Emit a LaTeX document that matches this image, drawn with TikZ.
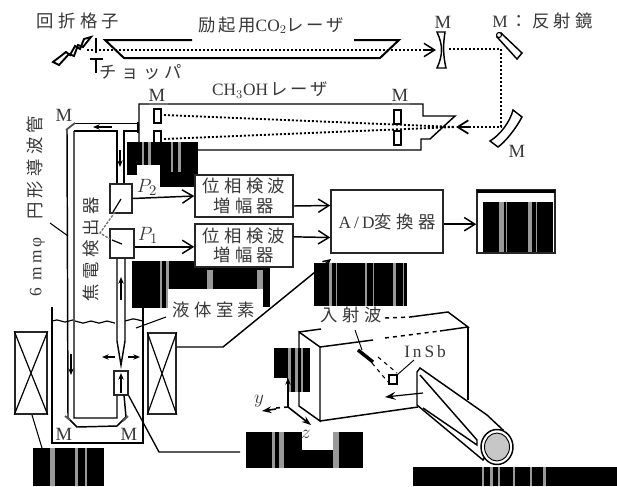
\documentclass[tikz,border=0pt]{standalone}
\usepackage{fontspec}
\setmainfont{Liberation Serif}
\newfontfamily\rmsp[LetterSpace=18]{Liberation Serif}
\newfontfamily\jpC[LetterSpace=25]{Noto Sans CJK JP}
\newfontfamily\jpB[LetterSpace=15]{Noto Sans CJK JP}
\usetikzlibrary{arrows.meta,decorations.pathmorphing}
\definecolor{ink}{gray}{0.22}
\tikzset{
  txt/.style={inner sep=0pt,text=ink,font=\fontsize{13pt}{15pt}\selectfont},
  mlab/.style={inner sep=0pt,text=ink,font=\fontsize{14pt}{15pt}\selectfont},
  itlab/.style={inner sep=0pt,text=ink,font=\fontsize{15pt}{16pt}\selectfont},
  dot/.style={line width=1.4pt,dash pattern=on 1.5pt off 1.5pt},
  wall/.style={line width=1.1pt},
  thick line/.style={line width=1.5pt},
  barb/.style={-{Straight Barb[length=8pt,width=10pt]},line width=1.1pt},
  small/.style={-{Stealth[length=5pt,width=4pt]},line width=.8pt},
  box/.style={draw=black!85,line width=1.1pt,fill=white,inner sep=0pt,align=center},
  block/.style={fill=black,draw=none},
  stripe/.style={fill=black!40,draw=none},
  mirror/.style={draw,line width=1.1pt,fill=white}
}
\newcommand{\stripes}[3]{\foreach \a/\b in {#3}{\fill[stripe] (\a,#1) rectangle (\b,#2);}}
\begin{document}
\begin{tikzpicture}[x=0.75pt,y=-0.75pt]
\useasboundingbox (0,0) rectangle (617,486);
\fill[white] (0,0) rectangle (617,486);

% top labels
\node[txt] (grlab) at (78,21) {\jpC 回折格子};
\node[txt] (co2lab) at (271,25) {\jpB 励起用\rmfamily CO$_2$\jpB レーザ};
\node[txt] (choplab) at (141,72) {\jpC チョッパ};
\node[mlab] (m1) at (443,22) {M};
\node[txt,anchor=west] (mlegend) at (492,21) {\rmfamily M\,\jpC ：反射鏡};

% grating and chopper
\draw[line width=1.4pt,fill=white] (53,62) -- (66,52) -- (70,55) -- (75,46) -- (80,49) -- (84,39) -- (91,37) -- (83,47) -- (78,45) -- (74,56) -- (69,54) -- (59,65) -- cycle;
\draw[line width=1.3pt,dash pattern=on 11pt off 4pt] (96,38) -- (96,78);
\draw[line width=1.3pt] (90,59) -- (103,59);

% CO2 laser
\draw[thick line] (192,40) -- (105,40) -- (124,58) -- (380,58) -- (399,40) -- (354,40);
\coordinate (beamL) at (87,50);
\coordinate (beamR) at (434,50);
\draw[dot] (beamL) -- (beamR);
\draw[barb] (424,50) -- (436,50);

% curved mirror, flat mirror, lower mirror
\draw[mirror] (437,32) -- (445,32) .. controls (443,45) and (443,55) .. (446,68) -- (437,68) .. controls (443,55) and (443,45) .. (437,32) -- cycle;
\draw[mirror] (497,37) -- (501,33) -- (522,53) -- (517,59) -- cycle;
\draw[line width=.8pt,fill=white] (499,35) circle (2.5);
\draw[mirror] (513,110) -- (522,117) .. controls (515,130) and (505,142) .. (498,147) -- (490,141) .. controls (500,135) and (510,122) .. (513,110) -- cycle;
\node[mlab] (m2) at (517,151) {M};

% relay beam
\coordinate (relayA) at (449,49);
\coordinate (relayB) at (501,49);
\coordinate (relayC) at (501,127);
\coordinate (relayD) at (459,127);
\draw[dot] (relayA) -- (relayB) -- (relayC) -- (relayD);
\draw[barb,line width=1.3pt] (470,127) -- (456,127);

% CH3OH laser
\node[txt] (chlab) at (270,90) {\rmfamily CH$_{3}$OH\,\jpB レーザ};
\draw[wall] (139,150) -- (139,104) -- (423,104) -- (423,116) -- (455,116) -- (430,139) -- (421,139) -- (421,150) -- (139,150);
\coordinate (focus) at (455,127);
\draw[dot] (164,115) -- (focus);
\draw[dot] (164,139) -- (focus);
\foreach \x/\y in {154/109,154/131,394/110,394/131}
  \draw[mirror] (\x,\y) rectangle ++(7,14);
\node[mlab] (m3) at (157,95) {M};
\node[mlab] (m4) at (400,95) {M};
\draw[line width=1.6pt,black!55] (149,104) -- (168,104) (392,104) -- (410,104);
\node[mlab] (m5) at (64,115) {M};

% waveguide
\draw[line width=2pt] (138,122) -- (138,133);
\draw[wall] (68,418) -- (67,130) (74,131) -- (74,418) -- (117,418) -- (117,395);
\draw[wall] (74,131) -- (117,131) -- (117,184);
\draw[wall] (124,184) -- (124,131) -- (137,131);
\draw[line width=1.3pt] (75,123.5) -- (137,123.5);
\draw[line width=1.3pt,black!70] (66,130) -- (75,123);
\draw[small] (112,127) -- (93,127);
\draw[small] (120,150) -- (120,167);
\draw[wall] (68,418) -- (77,427) -- (117,426) -- (126,417) -- (124,395);
\draw[line width=1.4pt,black!65] (65,416) -- (70,420) (128,416) -- (123,421);
\node[mlab] (m6) at (64,434) {M};
\node[mlab] (m7) at (129,434) {M};

% lower sample tube
\draw[wall,fill=white] (117,258) -- (117,341) -- (121,365) -- (125,341) -- (125,258);
\draw[small] (121,300) -- (121,277);
\draw[small] (71,354) -- (71,375);
\draw[small] (115,357) -- (102,357);
\draw[small] (128,357) -- (140,357);
\node[box,minimum width=10.5pt,minimum height=18pt] (sample) at (121,383) {};
\draw[small] (121,393) -- (121,373);

% cryostat
\draw[wall] (52,307) -- (52,443) -- (143,443) -- (143,308);
\draw[line width=.9pt,decorate,decoration={snake,amplitude=.8pt,segment length=12pt}] (52,321) -- (66,321) (75,321) -- (117,321) (125,321) -- (143,321);

% magnets
\node[box,minimum width=24pt,minimum height=61.5pt] (magL) at (31,373) {};
\node[box,minimum width=21pt,minimum height=60.75pt] (magR) at (162,373.5) {};
\draw[line width=.9pt] (magL.north west) -- (magL.south east) (magL.north east) -- (magL.south west);
\draw[line width=.9pt] (magR.north west) -- (magR.south east) (magR.north east) -- (magR.south west);

% redaction blocks
\fill[block] (127,142) rectangle (198,175);
\fill[block] (137,165) rectangle (195,187);
\stripes{142}{172}{142/144,148/151,171/173,178/181}
\fill[white] (137,165) rectangle (160,190);
\fill[block] (132,261) rectangle (270,289);
\fill[block] (132,289) rectangle (168,308);
\fill[block] (263,289) rectangle (270,307);
\stripes{261}{308}{160/162,166/169}
\stripes{270}{289}{207/213,257/263}
\fill[block] (274,348) rectangle (310,378);
\fill[block] (287,378) rectangle (310,392);
\stripes{348}{392}{288/291,295/298,301/303}
\fill[block] (246,432) rectangle (363,468);
\stripes{432}{468}{272/275,279/284,333/339}
\fill[white] (302,428) rectangle (333,450);
\fill[block] (33,448) rectangle (104,486);
\stripes{448}{486}{50/55,75/78,85/87}
\fill[block] (314,263) rectangle (407,306);
\stripes{263}{306}{329/332,336/337,365/367,373/374,393/396,403/404}
\fill[block] (413,467) rectangle (617,486);
\stripes{467}{486}{482/484,490/493,498/500,513/515,530/532,543/546}

% liquid label
\fill[white] (168,289) rectangle (263,322);
\node[txt] (liq) at (214,310) {\jpC 液体室素};
\coordinate (liqA) at (166,317);
\coordinate (liqB) at (136,328);
\draw[line width=.8pt] (liqA) -- (liqB);

% detectors
\node[box,minimum width=16.5pt,minimum height=21.75pt] (p2) at (121,198.5) {};
\node[box,minimum width=18pt,minimum height=21.75pt] (p1) at (122,243.5) {};
\draw[line width=.9pt] (113,212) -- (121,199);
\draw[line width=.9pt] (112,240) -- (122,244);
\draw[black!55,line width=1pt,dash pattern=on 2pt off 1pt] (115,212) -- (100,233) -- (110,239);
\node[itlab] (lp2) at (147,187) {$P_2$};
\node[itlab] (lp1) at (148,235) {$P_1$};

% amplifiers etc.
\node[box,minimum width=73.5pt,minimum height=31.5pt,font=\fontsize{13pt}{14.5pt}\selectfont,text=ink] (amp2) at (244,196) {\jpC 位相検波\\\jpC 増幅器};
\node[box,minimum width=73.5pt,minimum height=32.25pt,font=\fontsize{13pt}{14.5pt}\selectfont,text=ink] (amp1) at (244,245.5) {\jpC 位相検波\\\jpC 増幅器};
\node[box,minimum width=84pt,minimum height=47.25pt,font=\fontsize{13pt}{15pt}\selectfont,text=ink] (ad) at (387,221.5) {\rmsp A/D\jpC 変換器};
\node[box,minimum width=58.5pt,minimum height=47.25pt] (out) at (516,221.5) {};
\draw[line width=2pt] (477,191.5) -- (555,191.5);
\fill[block] (483,202) rectangle (553,252);
\stripes{202}{252}{499/504,506/507,528/532,536/537}
\draw[barb] (p2.east) -- (amp2.west);
\draw[barb] ([yshift=-2.5pt]p1.east) -- ([yshift=-1pt]amp1.west);
\draw[barb] ([yshift=-7.5pt]amp2.east) -- ([yshift=12pt]ad.west);
\draw[barb] ([yshift=6.5pt]amp1.east) -- ([yshift=-12pt]ad.west);
\draw[barb] ([yshift=-2pt]ad.east) -- ([yshift=-2pt]out.west);

% rotated labels
\node[txt,rotate=90] (wg) at (36,206) {\rmsp 6 mmφ\quad\jpC 円形導波管};
\node[txt,rotate=90] (det) at (91,249) {\jpC 焦電検出器};
\coordinate (wgA) at (50,223);
\coordinate (wgB) at (68,236);
\draw[line width=.8pt] (wgA) -- (wgB);

% leader lines
\coordinate (leadA) at (223,347);
\coordinate (leadB) at (331,259);
\draw[line width=1.1pt,-{Straight Barb[length=5pt,width=5pt]}] (magR.east|-leadA) -- (leadA) -- (leadB);
\fill[block] (314,263) rectangle (325,275);
\coordinate (lsA) at (159,452);
\coordinate (lsB) at (240,452);
\draw[line width=1pt] (sample.south east) -- (lsA) -- (lsB);
\coordinate (lmA) at (42,448);
\draw[line width=.8pt] (32,415) -- (lmA);

% InSb block
\node[txt] (inc) at (351,315) {\jpC 入射波};
\draw[wall] (299,332) -- (320,347) -- (320,421) -- (299,406) -- cycle;
\draw[wall] (320,421) -- (418,407);
\draw[wall] (320,347) -- (373,340);
\draw[wall] (440,331) -- (468,327) -- (448,312) -- (410,317);
\draw[wall] (468,327) -- (468,400);
\draw[wall] (299,332) -- (321,329);
\draw[line width=1.1pt,dashed] (385,318) -- (410,317) (385,338) -- (440,331);
\node[txt] (insb) at (425,352) {\rmsp I\,n\,S\,b};
\coordinate (insbA) at (414,360);
\coordinate (insbB) at (397,375);
\draw[line width=.7pt] (insbA) -- (insbB);
\draw[line width=.7pt] (355,330) -- (362,350);
\draw[line width=2.6pt] (358,350) -- (373,362);
\draw[line width=.8pt,dashed] (372,363) -- (388,382) (378,357) -- (397,373);
\draw[line width=.8pt] (389,375) rectangle (397,384);

% axes
\coordinate (org) at (288,407);
\draw[small,line width=1pt] (org) -- (288,378);
\draw[line width=1.2pt,dashed] (org) -- (276,408);
\draw[-{Stealth[length=7pt,width=5pt]},line width=1.2pt] (276,409) -- (262,411);
\draw[-{Stealth[length=7pt,width=5pt]},line width=1.2pt] (org) -- (311,425);
\node[itlab] (ylab) at (259,401) {$y$};
\node[itlab] (zlab) at (306,434) {$z$};

% horn waveguide
\draw[wall,fill=white] (417,372) -- (420,368) -- (487,415) -- (503,430) -- (483,460) -- (417,405) -- cycle;
\draw[wall] (420,375) -- (477,440) -- (477,445) -- (423,408);
\draw[wall,fill=white] (497,447) ellipse (16 and 17.5);
\draw[line width=.7pt,fill=black!22] (497,447) ellipse (12.5 and 14);
\draw[-{Stealth[length=8pt,width=6pt,inset=3pt]},line width=.9pt] (423,393) -- (385,397);
\end{tikzpicture}
\end{document}
